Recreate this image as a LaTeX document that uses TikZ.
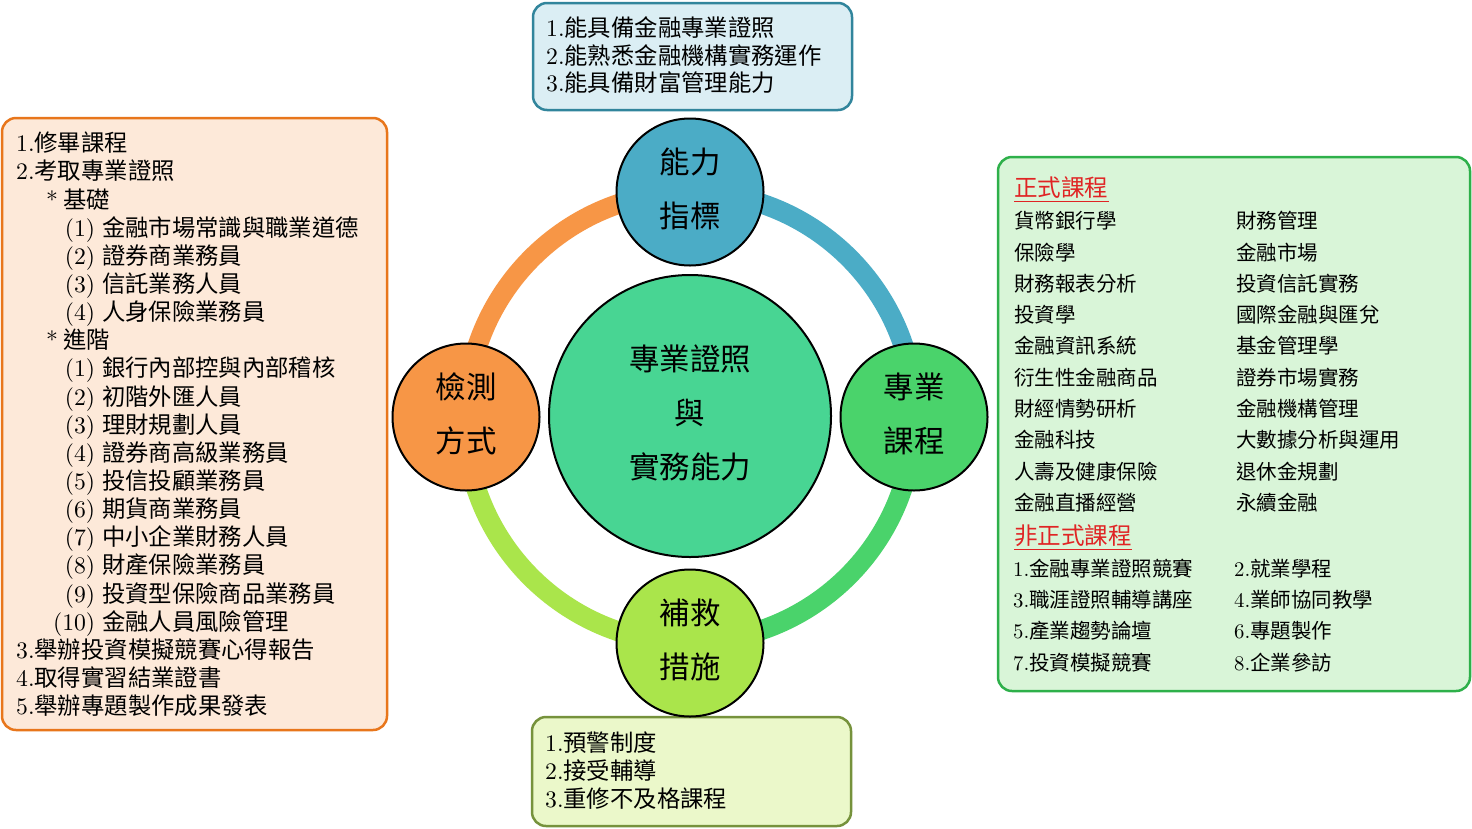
\documentclass[tikz,border=0pt]{standalone}
\usepackage{fontspec}
\setmainfont{lmroman10-regular}[Extension=.otf, Scale=1.03]
\newfontfamily\zh{Noto Sans CJK TC}[Scale=1.015]
\definecolor{cblue}{HTML}{4BACC6}
\definecolor{cgreen}{HTML}{4AD36B}
\definecolor{clime}{HTML}{AAE54B}
\definecolor{corange}{HTML}{F79646}
\definecolor{ccore}{HTML}{48D593}
\definecolor{tbfill}{HTML}{DBEEF4}
\definecolor{tbdraw}{HTML}{31859C}
\definecolor{lbfill}{HTML}{FDE9D9}
\definecolor{lbdraw}{HTML}{E8761B}
\definecolor{rbfill}{HTML}{D9F5D8}
\definecolor{rbdraw}{HTML}{2EB04A}
\definecolor{bbfill}{HTML}{EBF8CA}
\definecolor{bbdraw}{HTML}{76923C}
\definecolor{hdred}{HTML}{E02424}
\begin{document}
\begin{tikzpicture}[x=1pt,y=-1pt,
  panel/.style={draw, line width=2.5pt, rounded corners=14pt, anchor=north west, inner sep=0pt, outer sep=0pt},
  lnA/.style={anchor=west, inner sep=0pt, text height=20.2pt, text depth=2.8pt, font=\fontsize{23}{28}\selectfont},
  lnB/.style={anchor=west, inner sep=0pt, text height=18pt, text depth=2.5pt, font=\fontsize{20.2}{25}\selectfont},
  hdr/.style={anchor=west, inner sep=0pt, text height=20.7pt, text depth=2.8pt, text=hdred, font=\zh\fontsize{23.2}{28}\selectfont},
  bubble/.style={circle, draw=black, line width=2pt, inner sep=0pt, minimum size=147pt},
  bubtext/.style={inner sep=0pt, align=center, font=\zh\fontsize{30}{54}\selectfont},
  ring/.style={line width=20pt}]
\path[use as bounding box, fill=white] (0,0) rectangle (1472,828);

% panels
\node[panel, draw=tbdraw, fill=tbfill, minimum width=319pt, minimum height=107pt] (topbox) at (533,3) {};
\node[panel, draw=lbdraw, fill=lbfill, minimum width=385pt, minimum height=612pt] (leftbox) at (2,118) {};
\node[panel, draw=rbdraw, fill=rbfill, minimum width=472pt, minimum height=534pt] (rightbox) at (998,157) {};
\node[panel, draw=bbdraw, fill=bbfill, minimum width=319pt, minimum height=109pt] (botbox) at (532,717) {};

% ring
\coordinate (cT) at (690,192);
\coordinate (cR) at (914,417);
\coordinate (cB) at (690,643);
\coordinate (cL) at (466,417);
\draw[ring, cblue] (cT) arc[start angle=-90, end angle=0, radius=225];
\draw[ring, cgreen] (cR) arc[start angle=0, end angle=90, radius=225];
\draw[ring, clime] (cB) arc[start angle=90, end angle=180, radius=225];
\draw[ring, corange] (cL) arc[start angle=180, end angle=270, radius=225];

% circles
\node[bubble, fill=cblue] (ability) at (cT) {};
\node[bubble, fill=cgreen] (course) at (cR) {};
\node[bubble, fill=clime] (remedy) at (cB) {};
\node[bubble, fill=corange] (exam) at (cL) {};
\node[bubble, fill=ccore, minimum size=282pt] (core) at (690,416) {};
\node[bubtext] (abilityT) at ([yshift=3pt]ability.center) {能力\\指標};
\node[bubtext] (courseT) at ([yshift=3pt]course.center) {專業\\課程};
\node[bubtext] (remedyT) at ([yshift=3pt]remedy.center) {補救\\措施};
\node[bubtext] (examT) at ([yshift=3pt]exam.center) {檢測\\方式};
\node[bubtext] (coreT) at ([yshift=3pt]core.center) {專業證照\\與\\實務能力};

% top box text
\foreach \t [count=\i from 0] in {{1.{\zh 能具備金融專業證照}},{2.{\zh 能熟悉金融機構實務運作}},{3.{\zh 能具備財富管理能力}}}
  \node[lnA] (top\i) at (546,{28+\i*27.6}) {\t};

% bottom box text
\foreach \t [count=\i from 0] in {{1.{\zh 預警制度}},{2.{\zh 接受輔導}},{3.{\zh 重修不及格課程}}}
  \node[lnA] (bot\i) at (545,{743+\i*28}) {\t};

% left box text
\newcommand\stitem[1]{\hspace*{30pt}*\hspace{5pt}{\zh #1}}
\newcommand\nitem[2]{\hspace*{37pt}\makebox[42pt][r]{(#1)}\hspace{7pt}{\zh #2}}
\foreach \t [count=\i from 0] in {
  {1.{\zh 修畢課程}},
  {2.{\zh 考取專業證照}},
  {\stitem{基礎}},
  {\nitem{1}{金融市場常識與職業道德}},
  {\nitem{2}{證券商業務員}},
  {\nitem{3}{信託業務人員}},
  {\nitem{4}{人身保險業務員}},
  {\stitem{進階}},
  {\nitem{1}{銀行內部控與內部稽核}},
  {\nitem{2}{初階外匯人員}},
  {\nitem{3}{理財規劃人員}},
  {\nitem{4}{證券商高級業務員}},
  {\nitem{5}{投信投顧業務員}},
  {\nitem{6}{期貨商業務員}},
  {\nitem{7}{中小企業財務人員}},
  {\nitem{8}{財產保險業務員}},
  {\nitem{9}{投資型保險商品業務員}},
  {\nitem{10}{金融人員風險管理}},
  {3.{\zh 舉辦投資模擬競賽心得報告}},
  {4.{\zh 取得實習結業證書}},
  {5.{\zh 舉辦專題製作成果發表}}}
  \node[lnA] (left\i) at (16,{143+\i*28.15}) {\t};

% right box text
\node[hdr] (hdrA) at (1014,188) {正式課程};
\draw[hdred, line width=1.4pt] ([yshift=-1.5pt]hdrA.south west) -- ([yshift=-1.5pt]hdrA.south east);
\foreach \t [count=\i from 0] in {貨幣銀行學,保險學,財務報表分析,投資學,金融資訊系統,衍生性金融商品,財經情勢研析,金融科技,人壽及健康保險,金融直播經營}
  \node[lnB, font=\zh\fontsize{20.2}{25}\selectfont] (fa\i) at (1014,{221+\i*31.3}) {\t};
\foreach \t [count=\i from 0] in {財務管理,金融市場,投資信託實務,國際金融與匯兌,基金管理學,證券市場實務,金融機構管理,大數據分析與運用,退休金規劃,永續金融}
  \node[lnB, font=\zh\fontsize{20.2}{25}\selectfont] (fb\i) at (1236,{221+\i*31.3}) {\t};
\node[hdr] (hdrB) at (1014,536) {非正式課程};
\draw[hdred, line width=1.4pt] ([yshift=-1.5pt]hdrB.south west) -- ([yshift=-1.5pt]hdrB.south east);
\foreach \t [count=\i from 0] in {{1.{\zh 金融專業證照競賽}},{3.{\zh 職涯證照輔導講座}},{5.{\zh 產業趨勢論壇}},{7.{\zh 投資模擬競賽}}}
  \node[lnB] (na\i) at (1013,{569+\i*31.1}) {\t};
\foreach \t [count=\i from 0] in {{2.{\zh 就業學程}},{4.{\zh 業師協同教學}},{6.{\zh 專題製作}},{8.{\zh 企業參訪}}}
  \node[lnB] (nb\i) at (1234,{569+\i*31.1}) {\t};
\end{tikzpicture}
\end{document}
